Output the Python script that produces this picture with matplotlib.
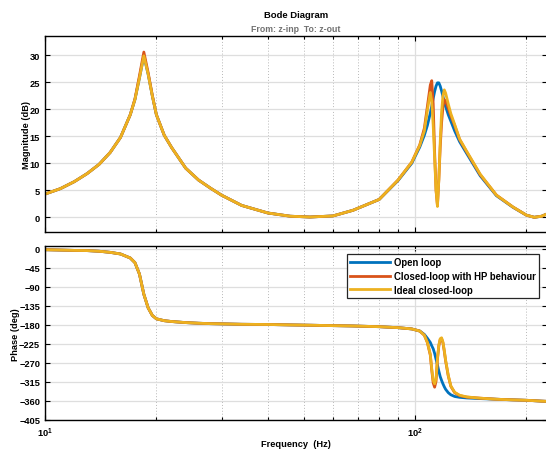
import matplotlib
matplotlib.use("Agg")
import matplotlib.pyplot as plt
import numpy as np
from matplotlib.ticker import LogLocator, NullFormatter, FixedLocator

plt.rcParams['font.family'] = ['Liberation Sans', 'DejaVu Sans']
plt.rcParams['font.weight'] = 'bold'

# frequency grid (Hz) shared by all three responses
freq_hz = [10, 11, 12, 13, 14, 15, 16, 17, 17.5, 18, 18.5, 19, 19.5, 20, 21, 22, 24, 26, 28, 30,
           34, 40, 46, 52, 60, 68, 80, 90, 98, 103, 106, 108, 110, 111, 112, 113, 114, 115, 116,
           117, 118, 119, 120, 121, 123, 125, 128, 132, 138, 150, 166, 184, 200, 210, 220, 227]

# magnitude (dB)
mag_open = [4.3, 5.3, 6.6, 8.1, 9.8, 12.0, 14.8, 19.0, 21.8, 25.8, 29.9, 26.5, 22.5, 19.0, 15.2, 12.9,
            9.1, 6.9, 5.4, 4.1, 2.2, 0.8, 0.2, 0.05, 0.25, 1.3, 3.3, 6.8, 10.0, 13.0, 15.2, 17.0, 19.3,
            20.6, 22.0, 23.3, 24.3, 24.9, 24.9, 24.3, 23.4, 22.4, 21.4, 20.5, 19.0, 17.8, 16.0, 14.0,
            11.8, 7.7, 4.0, 1.85, 0.4, 0.0, 0.2, 0.6]
mag_hp = [4.3, 5.3, 6.6, 8.1, 9.8, 12.0, 14.8, 19.0, 21.9, 26.2, 30.6, 26.8, 22.6, 19.0, 15.2, 12.9,
          9.1, 6.9, 5.4, 4.1, 2.2, 0.8, 0.2, 0.05, 0.25, 1.3, 3.3, 6.9, 10.2, 13.4, 16.5, 20.5, 24.5,
          25.3, 21.0, 12.0, 5.0, 2.2, 7.0, 13.0, 17.5, 20.5, 21.8, 21.5, 20.2, 18.8, 17.0, 14.4,
          12.1, 7.9, 4.1, 1.9, 0.4, 0.0, 0.2, 0.6]
mag_ideal = [4.3, 5.3, 6.6, 8.1, 9.8, 12.0, 14.8, 19.0, 21.8, 25.8, 29.9, 26.5, 22.5, 19.0, 15.2, 12.9,
             9.1, 6.9, 5.4, 4.1, 2.2, 0.8, 0.2, 0.05, 0.25, 1.3, 3.3, 6.9, 10.2, 13.3, 16.0, 19.8, 23.1,
             21.5, 17.0, 11.0, 5.0, 2.0, 7.0, 14.0, 19.5, 22.5, 23.6, 23.0, 21.0, 19.2, 17.2, 14.5,
             12.2, 8.0, 4.1, 1.9, 0.4, 0.0, 0.2, 0.6]

# phase (deg)
phase_open = [-2.4, -3.2, -4.0, -4.5, -6.0, -8.6, -12.5, -22, -33, -60, -108, -140, -158, -166, -170.5,
              -172.5, -175, -176.5, -177.5, -178, -179, -179.5, -180.5, -181.2, -182.2, -183, -184.7,
              -187, -190, -195, -203, -212, -222, -230, -237, -248, -262, -275, -290, -303, -312, -320,
              -327, -333, -341, -346, -350, -352, -353.5, -355, -356.5, -358, -359, -360, -361, -361.5]
phase_hp = [-2.4, -3.2, -4.0, -4.5, -6.0, -8.6, -12.5, -22, -33, -60, -108, -140, -158, -166, -170.5,
            -172.5, -175, -176.5, -177.5, -178, -179, -179.5, -180.5, -181.2, -182.2, -183, -184.7,
            -187, -190, -195, -205, -222, -252, -288, -318, -328, -314, -262, -230, -215, -213, -223,
            -243, -266, -301, -326, -341, -348, -351.5, -354, -356.5, -358, -359, -360, -361, -361.5]
phase_ideal = [-2.4, -3.2, -4.0, -4.5, -6.0, -8.6, -12.5, -22, -33, -60, -108, -140, -158, -166, -170.5,
               -172.5, -175, -176.5, -177.5, -178, -179, -179.5, -180.5, -181.2, -182.2, -183, -184.7,
               -187, -190, -195, -205, -222, -250, -285, -312, -320, -308, -260, -228, -213, -211, -221,
               -241, -264, -300, -325, -340, -347, -351, -354, -356.5, -358, -359, -360, -361, -361.5]

labels = ["Open loop", "Closed-loop with HP behaviour", "Ideal closed-loop"]
colors = ["#0072BD", "#D95319", "#EDB120"]

mag_ticks = [0, 5, 10, 15, 20, 25, 30]
phase_ticks = [0, -45, -90, -135, -180, -225, -270, -315, -360, -405]

W, H = 546, 452
fig = plt.figure(figsize=(W / 100, H / 100), dpi=100)
ax_mag = fig.add_axes([45 / W, 1 - 233.3 / H, 502 / W, 196 / H])
ax_ph = fig.add_axes([45 / W, 1 - 421 / H, 502 / W, 173.7 / H])

for c, lab, m, p in zip(colors, labels, [mag_open, mag_hp, mag_ideal], [phase_open, phase_hp, phase_ideal]):
    ax_mag.plot(freq_hz, m, color=c, lw=2.0, label=lab, solid_joinstyle='round')
    ax_ph.plot(freq_hz, p, color=c, lw=2.0, label=lab, solid_joinstyle='round')

for ax in (ax_mag, ax_ph):
    ax.set_xscale('log')
    ax.set_xlim(10, 227.4)
    ax.xaxis.set_minor_locator(LogLocator(base=10, subs=np.arange(2, 10)))
    ax.xaxis.set_minor_formatter(NullFormatter())
    ax.grid(True, which='major', color='#dedede', lw=0.9, ls='-')
    ax.grid(True, which='minor', axis='x', color='#b8b8b8', lw=0.7, ls=(0, (1, 2)))
    ax.set_axisbelow(True)
    ax.tick_params(which='both', direction='in', top=True, right=True, labelsize=6.7, width=0.8)
    ax.tick_params(which='major', length=3.5)
    ax.tick_params(which='minor', length=2)
    for s in ax.spines.values():
        s.set_linewidth(1.0)
        s.set_color('black')

ax_mag.set_ylim(-2.78, 33.52)
ax_mag.yaxis.set_major_locator(FixedLocator(mag_ticks))
ax_mag.tick_params(labelbottom=False)
ax_mag.set_ylabel("Magnitude (dB)", fontsize=6.7, fontweight='bold', labelpad=-1)

ax_ph.set_ylim(-405.7, 5.7)
ax_ph.yaxis.set_major_locator(FixedLocator(phase_ticks))
ax_ph.tick_params(axis='x', pad=4)
ax_ph.set_ylabel("Phase (deg)", fontsize=6.7, fontweight='bold', labelpad=-1)
ax_ph.set_xlabel("Frequency  (Hz)", fontsize=6.7, fontweight='bold', labelpad=0)

fig.text(296 / W, 1 - 15 / H, "Bode Diagram", ha='center', va='center', fontsize=6.8, fontweight='bold')
fig.text(296 / W, 1 - 30 / H, "From: z-inp  To: z-out", ha='center', va='center', fontsize=6.3,
         fontweight='bold', color='#707070')

leg = ax_ph.legend(loc='upper right', bbox_to_anchor=(0.9847, 0.957), borderaxespad=0, fontsize=6.9,
                   handlelength=4.2, handletextpad=0.4, borderpad=0.35, labelspacing=0.4, fancybox=False,
                   framealpha=1, edgecolor='#262626')
leg.get_frame().set_linewidth(0.9)
for t in leg.get_texts():
    t.set_fontweight('bold')

fig.savefig("out.png", dpi=100)
